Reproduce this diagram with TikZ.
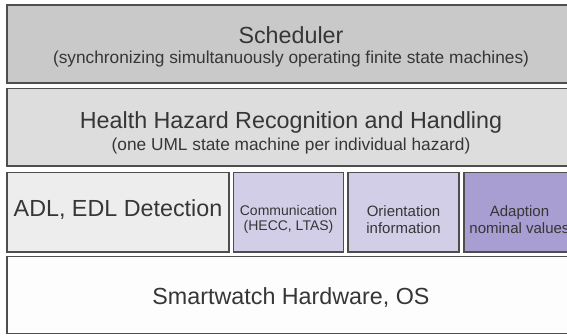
\documentclass[tikz,border=0pt]{standalone}
\usepackage{fontspec}
\setmainfont{Liberation Sans}
\definecolor{bord}{HTML}{4E4E4E}
\definecolor{txt}{HTML}{363636}
\definecolor{schedfill}{HTML}{C9C9C9}
\definecolor{hazfill}{HTML}{DDDDDD}
\definecolor{adlfill}{HTML}{EDEDED}
\definecolor{lilac}{HTML}{D3CEE7}
\definecolor{violet}{HTML}{A89ED1}
\definecolor{hwfill}{HTML}{FDFDFD}
\tikzset{
  layer/.style={draw=bord, line width=1.8pt, inner sep=0pt, outer sep=0pt},
  bigtext/.style={font=\fontsize{23.3}{28}\selectfont, text=txt, anchor=base, inner sep=0pt},
  subtext/.style={font=\fontsize{17.3}{20}\selectfont, text=txt, anchor=base, inner sep=0pt},
  smalltext/.style={font=\fontsize{15}{18}\selectfont, text=txt, anchor=base, inner sep=0pt},
  tinytext/.style={font=\fontsize{14}{17}\selectfont, text=txt, anchor=base, inner sep=0pt},
}
\begin{document}
\begin{tikzpicture}[x=1pt,y=-1pt]
\path[use as bounding box, clip] (0,0) rectangle (567,335);
\fill[white] (0,0) rectangle (567,335);
% layers
\node[layer, fill=schedfill, minimum width=568pt, minimum height=78pt] (sched) at (291,44) {};
\node[layer, fill=hazfill, minimum width=568pt, minimum height=77.5pt] (haz) at (291,127.25) {};
\node[layer, fill=adlfill, minimum width=222pt, minimum height=79.5pt] (adl) at (118,212.25) {};
\node[layer, fill=lilac, minimum width=110pt, minimum height=79.5pt] (comm) at (288.5,212.25) {};
\node[layer, fill=lilac, minimum width=111pt, minimum height=79.5pt] (orient) at (403.5,212.25) {};
\node[layer, fill=violet, minimum width=111pt, minimum height=79.5pt] (adapt) at (519.5,212.25) {};
\node[layer, fill=hwfill, minimum width=568pt, minimum height=77pt] (hw) at (291,295) {};
% texts
\node[bigtext] (schedA) at (sched.center |- 0,43) {Scheduler};
\node[subtext] (schedB) at (sched.center |- 0,63) {(synchronizing simultanuously operating finite state machines)};
\node[bigtext] (hazA) at (haz.center |- 0,128.5) {Health Hazard Recognition and Handling};
\node[subtext] (hazB) at (haz.center |- 0,150) {(one UML state machine per individual hazard)};
\node[bigtext] (adlA) at (adl.center |- 0,216.7) {ADL, EDL Detection};
\node[tinytext] (commA) at (comm.center |- 0,215) {Communication};
\node[tinytext] (commB) at (comm.center |- 0,230.7) {(HECC, LTAS)};
\node[smalltext] (orientA) at (orient.center |- 0,216.7) {Orientation};
\node[smalltext] (orientB) at (orient.center |- 0,233.3) {information};
\node[smalltext] (adaptA) at (adapt.center |- 0,216.7) {Adaption};
\node[smalltext] (adaptB) at (adapt.center |- 0,233.3) {nominal values};
\node[bigtext] (hwA) at (hw.center |- 0,304) {Smartwatch Hardware, OS};
\end{tikzpicture}
\end{document}
